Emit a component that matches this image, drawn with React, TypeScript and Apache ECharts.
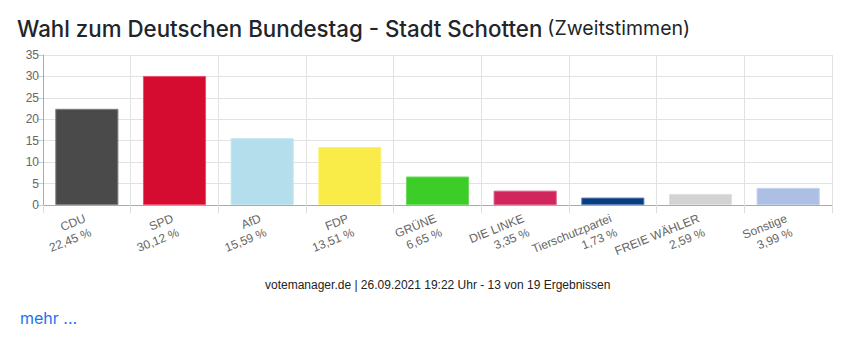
import React, { useEffect, useRef } from "react";
import * as echarts from "echarts";

const parties = ["CDU", "SPD", "AfD", "FDP", "GRÜNE", "DIE LINKE", "Tierschutzpartei", "FREIE WÄHLER", "Sonstige"];
const shares = [22.45, 30.12, 15.59, 13.51, 6.65, 3.35, 1.73, 2.59, 3.99];
const colors = ["#4a4a4a", "#d50c2f", "#b4deec", "#f9ec48", "#3ccd28", "#d0255d", "#073e7f", "#d3d3d3", "#adc0e4"];
const borders = ["#808080", "#e8506d", "#c6e6f1", "#fbf07a", "#6cd95d", "#de5a85", "#5a7fb0", "#e0e0e0", "#c3d1ec"];
const yTicks = [0, 5, 10, 15, 20, 25, 30, 35];

export default function App() {
  const ref = useRef<HTMLDivElement>(null);
  useEffect(() => {
    if (!ref.current) return;
    const chart = echarts.init(ref.current, undefined, { renderer: "svg" });
    const fmt = (v: number) => v.toFixed(2).replace(".", ",") + " %";
    chart.setOption({
      animation: false,
      backgroundColor: "#ffffff",
      title: {
        left: 12,
        top: 12,
        text: "{a|Wahl zum Deutschen Bundestag - Stadt Schotten} {b|(Zweitstimmen)}",
        textStyle: {
          rich: {
            a: { fontFamily: "Inter", fontSize: 22.3, fontWeight: 500, color: "#212529" },
            b: { fontFamily: "Inter", fontSize: 19.5, fontWeight: 400, color: "#212529" },
          },
        },
      },
      grid: { left: 43, right: 17, top: 55, bottom: 146, containLabel: false },
      xAxis: {
        type: "category",
        data: parties,
        axisLine: { lineStyle: { color: "#aaaaaa" } },
        axisTick: { show: true, length: 8, interval: 0, lineStyle: { color: "#dddddd" } },
        splitLine: { show: true, interval: 0, lineStyle: { color: "#e2e2e2" } },
        axisLabel: {
          interval: 0,
          rotate: 22,
          margin: 4,
          padding: [0, 5, 0, 0],
          align: "right",
          verticalAlign: "top",
          fontFamily: "Liberation Sans",
          fontSize: 12,
          lineHeight: 15,
          color: "#666666",
          formatter: (v: string, i: number) => `${v}\n${fmt(shares[i])}`,
        },
      },
      yAxis: {
        type: "value",
        min: yTicks[0],
        max: yTicks[yTicks.length - 1],
        interval: 5,
        axisLine: { show: true, lineStyle: { color: "#aaaaaa" } },
        axisTick: { show: true, length: 6, lineStyle: { color: "#cccccc" } },
        splitLine: { show: true, lineStyle: { color: "#e2e2e2" } },
        axisLabel: { fontFamily: "Liberation Sans", fontSize: 12, color: "#666666", margin: 4 },
      },
      series: [
        {
          type: "bar",
          barCategoryGap: "28%",
          data: shares.map((v, i) => ({
            value: v,
            itemStyle: { color: colors[i], borderColor: borders[i], borderWidth: 1 },
          })),
        },
      ],
      graphic: [
        {
          type: "text",
          left: 265,
          top: 279,
          style: {
            text: "votemanager.de | 26.09.2021 19:22 Uhr - 13 von 19 Ergebnissen",
            fontFamily: "Liberation Sans",
            fontSize: 12,
            fill: "#222222",
          },
        },
        {
          type: "text",
          left: 20,
          top: 310,
          style: {
            text: "mehr ...",
            fontFamily: "Inter",
            fontSize: 16,
            fill: "#1a73e8",
          },
        },
      ],
    });
    return () => chart.dispose();
  }, []);
  return <div ref={ref} style={{ position: "absolute", left: 0, top: 0, width: 849, height: 351 }} />;
}
